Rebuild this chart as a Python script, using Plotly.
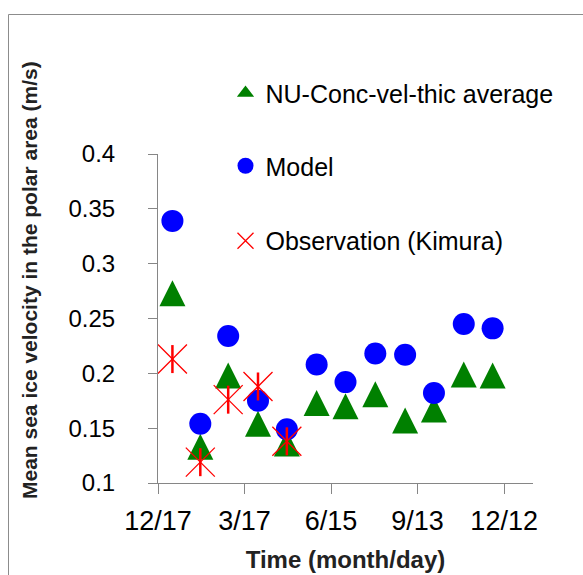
import plotly.graph_objects as go

# ---- data (days counted from 12/17) ----
day = [15, 44, 73, 104, 134, 165, 195, 226, 257, 287, 318, 348]
nu_avg = [0.273, 0.133, 0.198, 0.154, 0.136, 0.173, 0.170, 0.181, 0.157, 0.167, 0.199, 0.198]
model = [0.339, 0.154, 0.234, 0.175, 0.149, 0.208, 0.192, 0.218, 0.217, 0.182, 0.245, 0.241]
obs_day = [15, 44, 73, 104, 134]
obs = [0.213, 0.119, 0.176, 0.188, 0.138]

x_tickvals = [0, 90, 180, 270, 360]
x_ticktext = ["12/17", "3/17", "6/15", "9/13", "12/12"]
y_tickvals = [0.1, 0.15, 0.2, 0.25, 0.3, 0.35, 0.4]
y_ticktext = ["0.1", "0.15", "0.2", "0.25", "0.3", "0.35", "0.4"]

FONT = "Liberation Sans, Arial, sans-serif"
AXC = "#868686"

fig = go.Figure()
# legend entry for the triangle series (legend only)
fig.add_trace(go.Scatter(
    x=[None], y=[None], mode="markers", name="NU-Conc-vel-thic average",
    marker=dict(symbol="triangle-up", size=15, color="#008000", line=dict(width=0)),
    legend="legend", legendgroup="nu"))
fig.add_trace(go.Scatter(
    x=day, y=nu_avg, mode="markers", name="NU-Conc-vel-thic average",
    marker=dict(symbol="arrow-down", angle=180, standoff=13, size=26,
                color="#008000", line=dict(width=0)),
    showlegend=False, legendgroup="nu"))
fig.add_trace(go.Scatter(
    x=day, y=model, mode="markers", name="Model",
    marker=dict(symbol="circle", size=22, color="#0000FF", line=dict(width=0)),
    legend="legend2"))
fig.add_trace(go.Scatter(
    x=obs_day, y=obs, mode="markers", name="Observation (Kimura)",
    marker=dict(symbol="x-thin-open", size=29, color="#FF0000",
                line=dict(width=1.3, color="#FF0000")),
    legend="legend3", legendgroup="obs"))
fig.add_trace(go.Scatter(
    x=obs_day, y=obs, mode="markers", name="Observation (Kimura)",
    marker=dict(symbol="line-ns-open", size=20, color="#FF0000",
                line=dict(width=2.5, color="#FF0000")),
    showlegend=False, legendgroup="obs"))

leg_common = dict(font=dict(family=FONT, size=25, color="black"),
                  bgcolor="rgba(0,0,0,0)", xanchor="left", yanchor="middle",
                  x=0.18)
fig.update_layout(
    width=583, height=575,
    margin=dict(l=158, r=50, t=154, b=92),
    paper_bgcolor="white", plot_bgcolor="white",
    font=dict(family=FONT, color="black"),
    legend=dict(**leg_common, y=1.185),
    legend2=dict(**leg_common, y=0.9635),
    legend3=dict(**leg_common, y=0.7356),
    xaxis=dict(range=[0, 390], tickvals=x_tickvals, ticktext=x_ticktext,
               showgrid=False, zeroline=False, showline=True, linecolor=AXC,
               linewidth=1, ticks="outside", ticklen=10, tickcolor=AXC,
               tickfont=dict(family=FONT, size=27, color="black"),
               ticklabelstandoff=4, automargin=False,
               title=dict(text="<b>Time (month/day)</b>", standoff=15,
                          font=dict(family=FONT, size=24, color="#222"))),
    yaxis=dict(range=[0.1, 0.4], tickvals=y_tickvals, ticktext=y_ticktext,
               showgrid=False, zeroline=False, showline=True, linecolor=AXC,
               linewidth=1, ticks="outside", ticklen=9, tickcolor=AXC,
               tickfont=dict(family=FONT, size=24, color="black"),
               ticklabelstandoff=28, automargin=False),
    annotations=[dict(text="<b>Mean sea ice velocity in the polar area (m/s)</b>",
                      textangle=-90, xref="paper", yref="paper",
                      x=(29 - 158) / 375, y=(483 - 280) / 329,
                      xanchor="center", yanchor="middle", showarrow=False,
                      font=dict(family=FONT, size=21, color="#222"))],
    shapes=[dict(type="rect", xref="paper", yref="paper",
                 x0=(8.5 - 158) / 375, x1=(600 - 158) / 375,
                 y0=(483 - 600) / 329, y1=(483 - 14.5) / 329,
                 line=dict(color="#8c8c8c", width=1), layer="below")],
)

fig.write_html("out.html", config={"displayModeBar": False},
               post_script="document.body.style.margin='0';")
